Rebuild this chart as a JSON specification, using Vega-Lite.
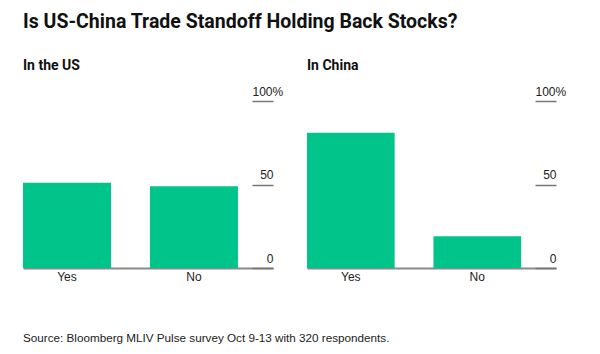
{
  "$schema": "https://vega.github.io/schema/vega-lite/v6.json",
  "background": "white",
  "padding": {"left": 23, "top": 11, "right": 5, "bottom": 5},
  "data": {"values": [
    {"region": "In the US", "answer": "Yes", "pct": 51},
    {"region": "In the US", "answer": "No", "pct": 49},
    {"region": "In China", "answer": "Yes", "pct": 81},
    {"region": "In China", "answer": "No", "pct": 19}
  ]},
  "title": {"text": "Is US-China Trade Standoff Holding Back Stocks?", "anchor": "start", "font": "Roboto", "fontSize": 19.5, "fontWeight": "bold", "color": "#111111", "offset": 27},
  "vconcat": [{
    "title": {"text": "Source: Bloomberg MLIV Pulse survey Oct 9-13 with 320 respondents.", "orient": "bottom", "anchor": "start", "font": "Liberation Sans", "fontSize": 11.7, "fontWeight": "normal", "color": "#222222", "offset": 51},
    "bounds": "flush",
    "spacing": 34,
    "hconcat": [
      {
        "width": 250, "height": 167,
        "title": {"text": "In the US", "anchor": "start", "frame": "group", "font": "Roboto", "fontSize": 14, "fontWeight": "bold", "color": "#111111", "offset": 12},
        "transform": [{"filter": "datum.region === 'In the US'"}],
        "mark": {"type": "bar", "color": "#00C48A"},
        "encoding": {
          "x": {"field": "answer", "type": "nominal", "sort": ["Yes", "No"], "scale": {"paddingInner": 0.307, "paddingOuter": 0.138, "align": 0}, "axis": {"title": null, "labelAngle": 0, "ticks": false, "domainColor": "#8a8a8a", "domainWidth": 2, "labelPadding": 3, "labelFont": "Liberation Sans", "labelFontSize": 12, "labelColor": "#222222"}},
          "y": {"field": "pct", "type": "quantitative", "scale": {"domain": [0, 100]}, "axis": {"orient": "right", "title": null, "values": [0, 50, 100], "domain": false, "grid": false, "tickSize": -21, "tickColor": "#777777", "tickWidth": 1.5, "labelAlign": {"condition": {"test": "datum.value == 100", "value": "left"}, "value": "right"}, "labelPadding": {"condition": {"test": "datum.value == 100", "value": 0}, "value": 21}, "labelBaseline": "alphabetic", "labelOffset": -6, "labelExpr": "datum.value == 100 ? '100%' : datum.label", "labelFont": "Liberation Sans", "labelFontSize": 12, "labelColor": "#222222", "minExtent": 0}}
        }
      },
      {
        "width": 249, "height": 167,
        "title": {"text": "In China", "anchor": "start", "frame": "group", "font": "Roboto", "fontSize": 14, "fontWeight": "bold", "color": "#111111", "offset": 12},
        "transform": [{"filter": "datum.region === 'In China'"}],
        "mark": {"type": "bar", "color": "#00C48A"},
        "encoding": {
          "x": {"field": "answer", "type": "nominal", "sort": ["Yes", "No"], "scale": {"paddingInner": 0.307, "paddingOuter": 0.138, "align": 0}, "axis": {"title": null, "labelAngle": 0, "ticks": false, "domainColor": "#8a8a8a", "domainWidth": 2, "labelPadding": 3, "labelFont": "Liberation Sans", "labelFontSize": 12, "labelColor": "#222222"}},
          "y": {"field": "pct", "type": "quantitative", "scale": {"domain": [0, 100]}, "axis": {"orient": "right", "title": null, "values": [0, 50, 100], "domain": false, "grid": false, "tickSize": -21, "tickColor": "#777777", "tickWidth": 1.5, "labelAlign": {"condition": {"test": "datum.value == 100", "value": "left"}, "value": "right"}, "labelPadding": {"condition": {"test": "datum.value == 100", "value": 0}, "value": 21}, "labelBaseline": "alphabetic", "labelOffset": -6, "labelExpr": "datum.value == 100 ? '100%' : datum.label", "labelFont": "Liberation Sans", "labelFontSize": 12, "labelColor": "#222222", "minExtent": 0}}
        }
      }
    ]
  }],
  "config": {"view": {"stroke": null}}
}
